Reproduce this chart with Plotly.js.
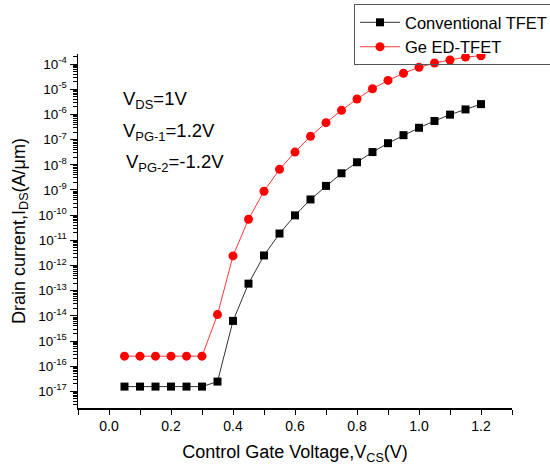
<!DOCTYPE html>
<html>
<head>
<meta charset="utf-8">
<script src="https://cdn.plot.ly/plotly-3.0.1.min.js"></script>
<style>html,body{margin:0;padding:0;background:#fff;}#chart{width:550px;height:467px;}</style>
</head>
<body>
<div id="chart"></div>
<script>
const gateVoltage = [0.05,0.10,0.15,0.20,0.25,0.30,0.35,0.40,0.45,0.50,0.55,0.60,0.65,0.70,0.75,0.80,0.85,0.90,0.95,1.00,1.05,1.10,1.15,1.20];
const conventionalTFET = [1.55e-17,1.55e-17,1.55e-17,1.55e-17,1.55e-17,1.55e-17,2.45e-17,6.3e-15,1.9e-13,2.5e-12,1.86e-11,9.8e-11,4.2e-10,1.45e-9,4.6e-9,1.26e-8,3.2e-8,7.2e-8,1.5e-7,2.95e-7,5.5e-7,9.8e-7,1.58e-6,2.57e-6];
const geEDTFET = [2.5e-16,2.5e-16,2.5e-16,2.5e-16,2.5e-16,2.5e-16,1.12e-14,2.4e-12,6.9e-11,8.9e-10,6.6e-9,3.2e-8,1.35e-7,4.7e-7,1.45e-6,4.1e-6,1.05e-5,2.24e-5,4.3e-5,7.4e-5,1.1e-4,1.45e-4,1.9e-4,2.14e-4];
const yExponents = [-17,-16,-15,-14,-13,-12,-11,-10,-9,-8,-7,-6,-5,-4];
const yTickVals = yExponents.map(e => Math.pow(10, e));
const yTickText = yExponents.map(e => '10<sup>' + e + '</sup>');
const seriesNames = ['Conventional TFET', 'Ge ED-TFET'];
const annotationTexts = ['V<sub>DS</sub>=1V', 'V<sub>PG-1</sub>=1.2V', 'V<sub>PG-2</sub>=-1.2V'];

const FONT = 'Liberation Sans, Arial, sans-serif';

const traces = [
  {x: gateVoltage, y: conventionalTFET, name: seriesNames[0], type: 'scatter', mode: 'lines+markers',
   line: {color: '#333333', width: 1}, marker: {symbol: 'square', size: 8, color: '#000000'}},
  {x: gateVoltage, y: geEDTFET, name: seriesNames[1], type: 'scatter', mode: 'lines+markers',
   line: {color: '#ff3a3a', width: 1}, marker: {symbol: 'circle', size: 9, color: '#ff0000'}}
];

const layout = {
  width: 550, height: 467,
  margin: {l: 78, r: 38, t: 54, b: 59, autoexpand: false},
  paper_bgcolor: '#ffffff', plot_bgcolor: '#ffffff',
  font: {family: FONT, color: '#000000'},
  showlegend: true,
  legend: {x: 0.636, y: 1.141, xanchor: 'left', yanchor: 'top', bgcolor: 'rgba(255,255,255,0)',
           bordercolor: '#555555', borderwidth: 1, font: {family: FONT, size: 16.5, color: '#000'},
           itemwidth: 40, tracegroupgap: 0},
  xaxis: {range: [-0.1, 1.3], tick0: 0, dtick: 0.2, tickformat: '.1f', showgrid: false, zeroline: false,
          showline: true, linecolor: '#000', linewidth: 1.5, ticks: 'outside', ticklen: 5, tickwidth: 1, tickcolor: '#000',
          minor: {dtick: 0.1, tick0: 0, ticks: 'outside', ticklen: 5, tickwidth: 1, tickcolor: '#000', showgrid: false},
          tickfont: {family: FONT, size: 14, color: '#000'},
          title: {text: 'Control Gate Voltage,V<sub>CS</sub>(V)', font: {family: FONT, size: 18, color: '#000'}, standoff: 12}},
  yaxis: {type: 'log', range: [-17.66, -3.6], tickmode: 'array', tickvals: yTickVals, ticktext: yTickText,
          showgrid: false, zeroline: false, showline: true, linecolor: '#000', linewidth: 1.5,
          ticks: 'outside', ticklen: 7, tickwidth: 1, tickcolor: '#000',
          minor: {dtick: 'D1', ticks: 'outside', ticklen: 4, tickwidth: 1, tickcolor: '#000', showgrid: false},
          tickfont: {family: FONT, size: 13.5, color: '#000'},
          title: {text: 'Drain current,I<sub>DS</sub>(A/μm)', font: {family: FONT, size: 18, color: '#000'}, standoff: 8}},
  annotations: [
    {xref: 'paper', yref: 'paper', x: 0.10, y: 0.871, xanchor: 'left', yanchor: 'middle', showarrow: false, text: annotationTexts[0], font: {family: FONT, size: 18.5, color: '#000'}},
    {xref: 'paper', yref: 'paper', x: 0.10, y: 0.780, xanchor: 'left', yanchor: 'middle', showarrow: false, text: annotationTexts[1], font: {family: FONT, size: 18.5, color: '#000'}},
    {xref: 'paper', yref: 'paper', x: 0.105, y: 0.692, xanchor: 'left', yanchor: 'middle', showarrow: false, text: annotationTexts[2], font: {family: FONT, size: 18.5, color: '#000'}}
  ]
};

Plotly.newPlot('chart', traces, layout, {staticPlot: true, displayModeBar: false});
</script>
</body>
</html>
